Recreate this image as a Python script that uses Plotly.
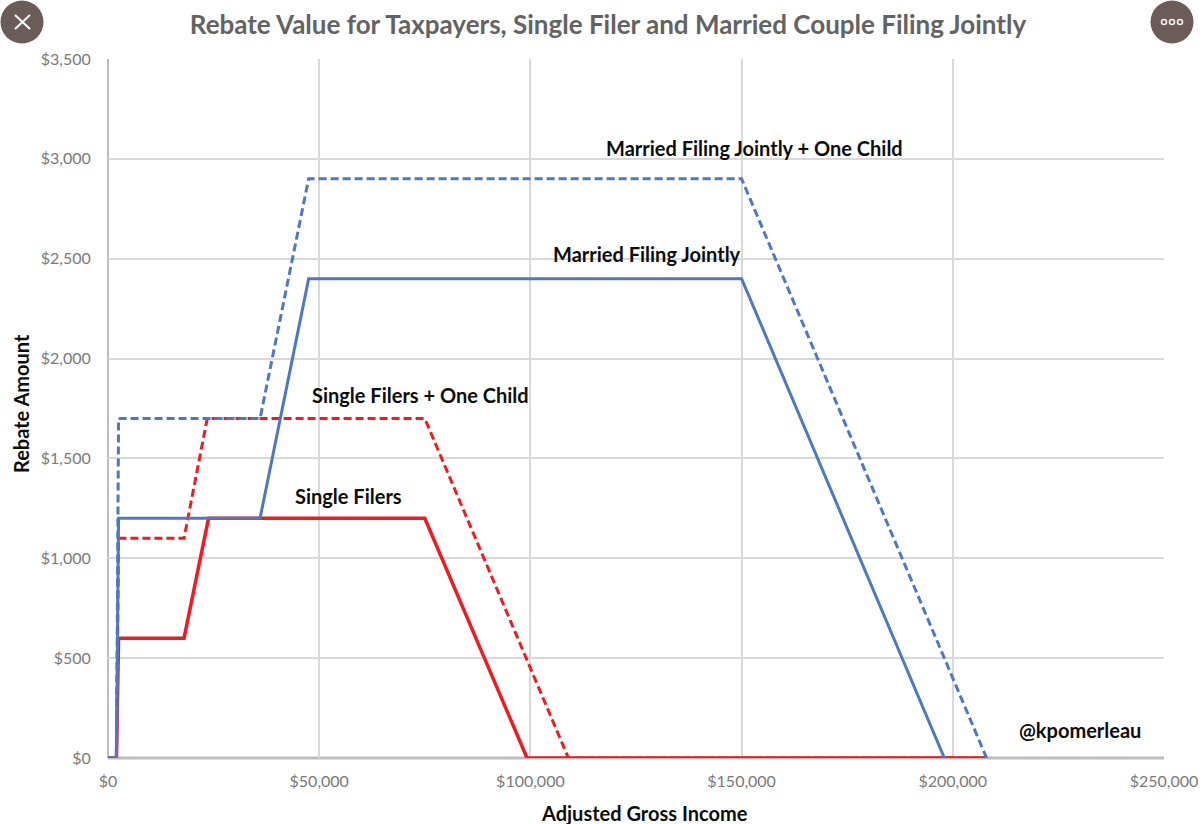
import plotly.graph_objects as go

W, H = 1204, 824
L, R, T, B = 108, 40, 59, 66

income_married_child = [0, 2000, 2500, 36000, 47500, 150000, 208000]
rebate_married_child = [0, 0, 1700, 1700, 2900, 2900, 0]
income_married = [0, 2000, 2500, 36000, 47500, 150000, 198000]
rebate_married = [0, 0, 1200, 1200, 2400, 2400, 0]
income_single_child = [0, 2000, 2500, 18000, 23500, 75000, 109000, 208000]
rebate_single_child = [0, 0, 1100, 1100, 1700, 1700, 0, 0]
income_single = [0, 2000, 2500, 18000, 23800, 75000, 99200, 208000]
rebate_single = [0, 0, 600, 600, 1200, 1200, 0, 0]

x_ticks = [0, 50000, 100000, 150000, 200000, 250000]
x_tick_labels = ["$0", "$50,000", "$100,000", "$150,000", "$200,000", "$250,000"]
y_ticks = [0, 500, 1000, 1500, 2000, 2500, 3000, 3500]
y_tick_labels = ["$0", "$500", "$1,000", "$1,500", "$2,000", "$2,500", "$3,000", "$3,500"]

label_texts = ["Married Filing Jointly + One Child", "Married Filing Jointly",
               "Single Filers + One Child", "Single Filers", "@kpomerleau"]
label_x = [153170, 127500, 74000, 56900, 230100]
label_y = [3054, 2523, 1816, 1310, 142]

RED, BLUE = "#f01a1f", "#4f78c4"
FONT = "Lato"
fig = go.Figure()
for xs, ys, col, dash, wid, name in [
    (income_single, rebate_single, RED, "solid", 3.5, "Single Filers"),
    (income_single_child, rebate_single_child, RED, "8px,4px", 3, "Single Filers + One Child"),
    (income_married_child, rebate_married_child, BLUE, "8px,4px", 3, "Married Filing Jointly + One Child"),
    (income_married, rebate_married, BLUE, "solid", 3, "Married Filing Jointly"),
]:
    fig.add_trace(go.Scatter(x=xs, y=ys, mode="lines", name=name, cliponaxis=False,
                             line=dict(color=col, width=wid, dash=dash)))

for t, x, y in zip(label_texts, label_x, label_y):
    fig.add_annotation(x=x, y=y, text=f"<b>{t}</b>", showarrow=False, xanchor="center", yanchor="middle",
                       font=dict(family=FONT, size=20, color="#0d0d0d"))

def pcx(x):
    return (x - L) / (W - L - R)
def pcy(y):
    return 1 - (y - T) / (H - T - B)

fig.add_annotation(xref="paper", yref="paper", x=pcx(644), y=pcy(813), showarrow=False, xanchor="center", yanchor="middle",
                   text="<b>Adjusted Gross Income</b>", font=dict(family=FONT, size=20, color="#0d0d0d"))
fig.add_annotation(xref="paper", yref="paper", x=pcx(21), y=pcy(404), showarrow=False, textangle=-90, xanchor="center", yanchor="middle",
                   text="<b>Rebate Amount</b>", font=dict(family=FONT, size=20, color="#0d0d0d"))

BROWN = "#6b5c5a"
shapes = []
for cx in (22, 1172):
    shapes.append(dict(type="circle", xref="paper", yref="paper", x0=pcx(cx - 21.5), x1=pcx(cx + 21.5),
                       y0=pcy(22 + 21.5), y1=pcy(22 - 21.5), fillcolor=BROWN, line=dict(width=0), layer="above"))
for x0, y0, x1, y1 in [(15, 15, 30, 29), (15, 29, 30, 15)]:
    shapes.append(dict(type="line", xref="paper", yref="paper", x0=pcx(x0), x1=pcx(x1), y0=pcy(y0), y1=pcy(y1),
                       line=dict(color="white", width=2), layer="above"))
for cx in (1164, 1172, 1180):
    shapes.append(dict(type="circle", xref="paper", yref="paper", x0=pcx(cx - 2.5), x1=pcx(cx + 2.5),
                       y0=pcy(24.5), y1=pcy(19.5), fillcolor=BROWN, line=dict(color="#f2eeee", width=1.6), layer="above"))
shapes.append(dict(type="line", xref="paper", yref="paper", x0=0, x1=1, y0=0, y1=0, line=dict(color="#bdbdbd", width=3), layer="below"))
shapes.append(dict(type="line", xref="paper", yref="paper", x0=0, x1=0, y0=0, y1=1, line=dict(color="#bdbdbd", width=2), layer="below"))

fig.update_layout(
    width=W, height=H, margin=dict(l=L, r=R, t=T, b=B, pad=0), autosize=False,
    paper_bgcolor="white", plot_bgcolor="white", showlegend=False, shapes=shapes,
    title=dict(text="<b>Rebate Value for Taxpayers, Single Filer and Married Couple Filing Jointly</b>",
               x=608 / W, xanchor="center", y=1 - 25 / H, yanchor="middle",
               font=dict(family=FONT, size=26, color="#636363")),
    xaxis=dict(range=[0, 250000], tickvals=x_ticks, ticktext=x_tick_labels, ticks="outside", ticklen=9,
               tickcolor="rgba(255,255,255,0)", showgrid=True, ticklabeloverflow="allow", automargin=False,
               gridcolor="#d9d9d9", gridwidth=2, zeroline=False, showline=False,
               tickfont=dict(family=FONT, size=16, color="#7a7a7a")),
    yaxis=dict(range=[0, 3500], tickvals=y_ticks, ticktext=y_tick_labels, ticks="outside", ticklen=13,
               tickcolor="rgba(255,255,255,0)", showgrid=True, automargin=False,
               gridcolor="#d9d9d9", gridwidth=2, zeroline=False, showline=False,
               tickfont=dict(family=FONT, size=16, color="#7a7a7a")),
)

fig.write_html("out.html", config={"displayModeBar": False},
               post_script="document.body.style.margin='0';document.documentElement.style.overflow='hidden';")
